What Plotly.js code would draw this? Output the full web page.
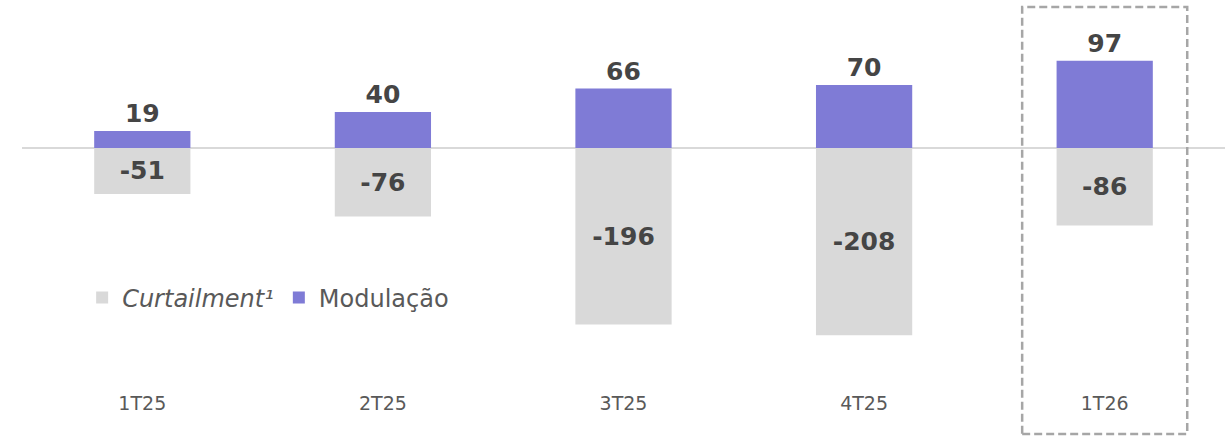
<!DOCTYPE html>
<html>
<head>
<meta charset="utf-8">
<script src="https://cdn.plot.ly/plotly-3.0.1.min.js"></script>
<style>
  html, body { margin: 0; padding: 0; background: #ffffff; }
  #chart { width: 1230px; height: 436px; }
</style>
</head>
<body>
<div id="chart"></div>
<script>
// Quarterly values
const quarters = ['1T25', '2T25', '3T25', '4T25', '1T26'];
const curtailment = [-51, -76, -196, -208, -86];
const modulacao = [19, 40, 66, 70, 97];

const fontFamily = 'DejaVu Sans, Verdana, sans-serif';
const labelFont = { family: fontFamily, size: 25, color: '#454545', weight: 700 };

Plotly.newPlot('chart', [
  {
    type: 'bar',
    name: '<i>Curtailment¹</i>',
    x: quarters,
    y: curtailment,
    marker: { color: '#d9d9d9' },
    text: curtailment.map(String),
    textposition: 'inside',
    insidetextanchor: 'middle',
    textfont: labelFont,
    hoverinfo: 'x+y',
  },
  {
    type: 'bar',
    name: 'Modulação',
    x: quarters,
    y: modulacao,
    marker: { color: '#7f7bd6' },
    text: modulacao.map(String),
    textposition: 'outside',
    textfont: labelFont,
    cliponaxis: false,
    hoverinfo: 'x+y',
  },
], {
  width: 1230,
  height: 436,
  barmode: 'relative',
  bargap: 0.6,
  showlegend: true,
  legend: {
    orientation: 'h',
    x: 0.05,
    xanchor: 'left',
    y: 0.226,
    yanchor: 'middle',
    bgcolor: 'rgba(0,0,0,0)',
    font: { family: fontFamily, size: 24, color: '#595959' },
    traceorder: 'normal',
    itemwidth: 30,
  },
  xaxis: {
    type: 'category',
    range: [-0.5, 4.5],
    showgrid: false,
    showline: false,
    ticks: '',
    tickfont: { family: fontFamily, size: 19, color: '#595959' },
    ticklabelstandoff: 5,
  },
  yaxis: {
    range: [-263.3, 164.4],
    showgrid: false,
    showticklabels: false,
    zeroline: true,
    zerolinecolor: '#d9d9d9',
    zerolinewidth: 2,
  },
  shapes: [
    {
      type: 'rect',
      xref: 'x',
      yref: 'paper',
      x0: 3.657,
      x1: 4.343,
      y0: -0.127,
      y1: 0.982,
      line: { color: '#a6a6a6', width: 2.5, dash: '8px,4px' },
      fillcolor: 'rgba(0,0,0,0)',
      layer: 'above',
    },
  ],
  margin: { l: 22, r: 5, t: 0, b: 51 },
  paper_bgcolor: '#ffffff',
  plot_bgcolor: '#ffffff',
}, { displayModeBar: false, responsive: false });
</script>
</body>
</html>
